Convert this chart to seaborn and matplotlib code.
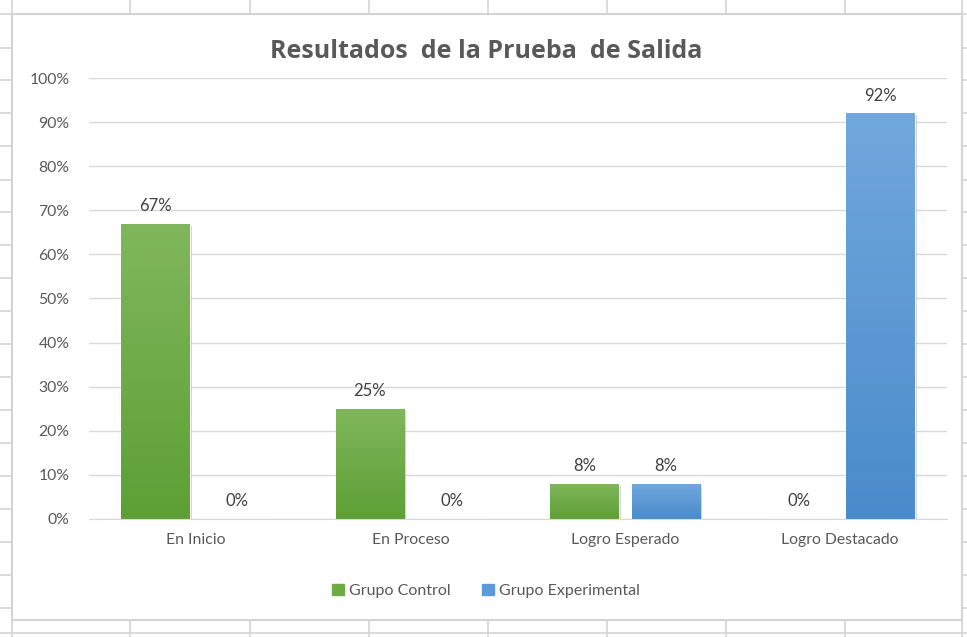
import matplotlib.pyplot as plt
import matplotlib.patheffects as pe
from matplotlib.patches import Rectangle
from matplotlib.lines import Line2D
from matplotlib.colors import LinearSegmentedColormap
from matplotlib.ticker import PercentFormatter, MultipleLocator
import numpy as np
import pandas as pd
import seaborn as sns


niveles = ['En Inicio', 'En Proceso', 'Logro Esperado', 'Logro Destacado']
grupo_control = [0.67, 0.25, 0.08, 0.00]
grupo_experimental = [0.00, 0.00, 0.08, 0.92]
grupos = ['Grupo Control', 'Grupo Experimental']
colores = ['#6eab47', '#5d9bd6']
# excel style gradient (top -> bottom)
degradados = [('#80b75c', '#5e9f35'), ('#71a8dd', '#4a8bcb')]

df = pd.DataFrame({
    'nivel': niveles * 2,
    'grupo': [grupos[0]] * 4 + [grupos[1]] * 4,
    'valor': grupo_control + grupo_experimental,
})

sns.set_style('white')
plt.rcParams['font.family'] = ['Lato', 'DejaVu Sans']
texto = '#595959'

fig = plt.figure(figsize=(9.67, 6.37), dpi=100)
W, H = 967, 637

# spreadsheet cells behind the chart
cell = '#d4d4d4'
for x in [12, 130, 250, 369, 488, 607, 726, 845, 962]:
    fig.add_artist(Line2D([x / W, x / W], [1, 1 - 14 / H], color=cell, lw=1.2))
    fig.add_artist(Line2D([x / W, x / W], [1 - 620 / H, 0], color=cell, lw=1.2))
for y in [14, 48, 80, 113, 146, 180, 212, 245, 278, 311, 344, 377, 410, 443, 476, 509, 542, 575, 608]:
    fig.add_artist(Line2D([0, 12 / W], [1 - y / H, 1 - y / H], color=cell, lw=1.2))
    fig.add_artist(Line2D([962 / W, 1], [1 - y / H, 1 - y / H], color=cell, lw=1.2))
fig.add_artist(Line2D([0, 1], [1 - 633 / H, 1 - 633 / H], color=cell, lw=1.2))
fig.add_artist(Rectangle((12 / W, 1 - 620 / H), (962 - 12) / W, (620 - 14) / H,
                         transform=fig.transFigure, fill=False, edgecolor=cell, lw=1.5))

ax = fig.add_axes([89 / W, 1 - 519 / H, (947 - 89) / W, (519 - 78) / H])
sns.barplot(data=df, x='nivel', y='valor', hue='grupo', palette=colores, saturation=1,
            width=0.76, gap=0.16, ax=ax, legend=False)

grad = np.linspace(0, 1, 256).reshape(-1, 1)
for cont, (top, bot) in zip(ax.containers, degradados):
    cmap = LinearSegmentedColormap.from_list('g', [top, bot])
    for bar in cont:
        bar.set_path_effects([pe.SimplePatchShadow(offset=(1.5, -1.5), shadow_rgbFace='#000000', alpha=0.2),
                              pe.Normal()])
        h = bar.get_height()
        if h > 0:
            x0 = bar.get_x()
            im = ax.imshow(grad, cmap=cmap, aspect='auto', origin='upper',
                           extent=(x0, x0 + bar.get_width(), 0, h), zorder=bar.get_zorder() + 0.1)
            im.set_clip_path(bar)

for cont in ax.containers:
    ax.bar_label(cont, labels=[f'{v * 100:.0f}%' for v in cont.datavalues],
                 padding=7, fontsize=12, color='#404040')

ax.set_ylim(0, 1)
ax.set_xlim(-0.5, 3.5)
ax.yaxis.set_major_locator(MultipleLocator(0.1))
ax.yaxis.set_major_formatter(PercentFormatter(1.0, decimals=0))
ax.grid(axis='y', color='#d9d9d9', lw=1)
ax.set_axisbelow(True)
for s in ['top', 'right', 'left']:
    ax.spines[s].set_visible(False)
ax.spines['bottom'].set_color('#d9d9d9')
ax.tick_params(axis='both', length=0, labelsize=11.3, labelcolor=texto)
ax.tick_params(axis='y', pad=14)
ax.tick_params(axis='x', pad=10)
ax.set_xlabel('')
ax.set_ylabel('')

fig.text(486 / W, 1 - 52 / H, 'Resultados  de la Prueba  de Salida', ha='center', va='center',
         fontsize=18, fontweight='bold', color=texto, family=['Open Sans', 'DejaVu Sans'])

handles = [Rectangle((0, 0), 1, 1, color=c) for c in colores]
fig.legend(handles, grupos, loc='center', bbox_to_anchor=(486 / W, 1 - 591 / H), ncol=2,
           frameon=False, fontsize=11.5, labelcolor=texto, handlelength=0.75, handleheight=0.75,
           handletextpad=0.3, columnspacing=2.0)

fig.savefig('out.png', dpi=100)
